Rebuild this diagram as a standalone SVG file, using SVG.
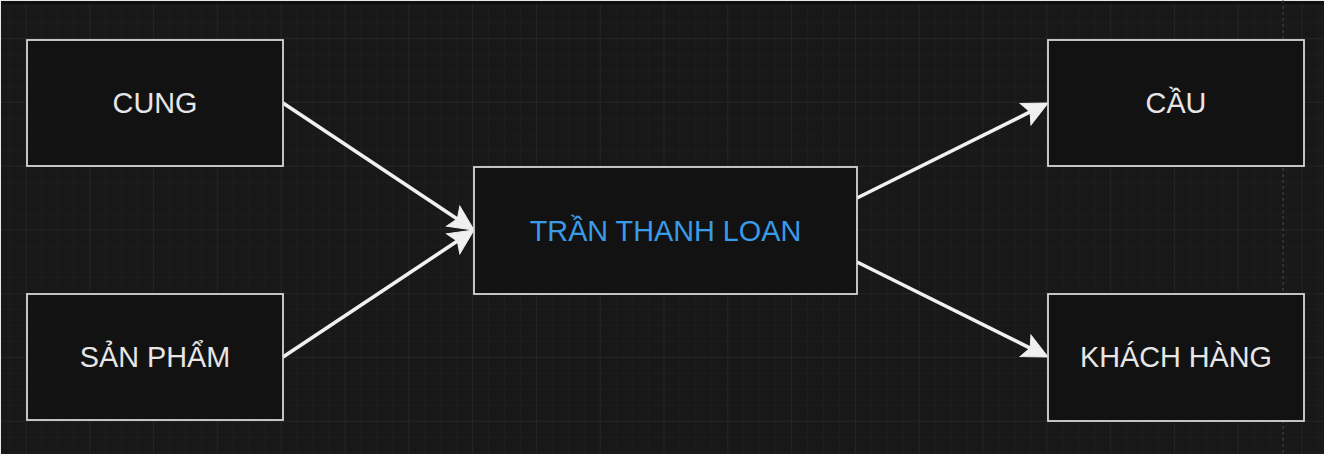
<svg xmlns="http://www.w3.org/2000/svg" width="1324" height="454" viewBox="0 0 1324 454">
  <defs>
    <pattern id="minor" x="25.5" y="38" width="15.95" height="15.95" patternUnits="userSpaceOnUse">
      <path d="M0,0 H15.95 M0,0 V15.95" fill="none" stroke="#212121" stroke-width="1"/>
    </pattern>
    <pattern id="major" x="25.5" y="38" width="63.8" height="63.8" patternUnits="userSpaceOnUse">
      <path d="M0,0 H63.8 M0,0 V63.8" fill="none" stroke="#2c2c2c" stroke-width="1"/>
    </pattern>
    <marker id="arrow" markerUnits="userSpaceOnUse" markerWidth="40" markerHeight="40" refX="0" refY="0" orient="auto" overflow="visible">
      <path d="M20,0 L-5,-12 L0,0 L-5,12 Z" fill="#f0f0f0" stroke="#f0f0f0" stroke-width="1" stroke-linejoin="miter"/>
    </marker>
    <style>
      .node rect { fill: #121212; stroke: #d6d6d6; stroke-width: 1.8; }
      .node text { font-family: "Liberation Sans", Arial, sans-serif; font-size: 28.8px; fill: #e6e6e6; text-anchor: middle; }
      .node text.blue { fill: #3a9be8; }
      .edge { fill: none; stroke: #f0f0f0; stroke-width: 3.6; marker-end: url(#arrow); }
    </style>
  </defs>

  <rect x="0" y="0" width="1324" height="454" fill="#181818"/>
  <rect x="0" y="0" width="1324" height="454" fill="url(#minor)"/>
  <rect x="0" y="0" width="1324" height="454" fill="url(#major)"/>
  <rect x="0" y="1" width="1324" height="3" fill="#0f0f0f"/>
  <line x1="0" y1="0.5" x2="1324" y2="0.5" stroke="#e8e8e8" stroke-width="1"/>
  <line x1="0.5" y1="0" x2="0.5" y2="454" stroke="#e8e8e8" stroke-width="1"/>
  <line x1="1283" y1="0" x2="1283" y2="454" stroke="#4a4a4a" stroke-width="1" stroke-dasharray="3,3"/>

  <g id="connectors">
    <path class="edge" d="M283,103 L457.35,218.93"/>
    <path class="edge" d="M283,357 L457.35,241.07"/>
    <path class="edge" d="M857,198 L1030.09,111.91"/>
    <path class="edge" d="M857,262 L1030.09,348.09"/>
  </g>

  <g id="node-cung" class="node">
    <rect x="27" y="40" width="256" height="126"/>
    <text x="155" y="113">CUNG</text>
  </g>
  <g id="node-san-pham" class="node">
    <rect x="27" y="294" width="256" height="126"/>
    <text x="155" y="367">SẢN PHẨM</text>
  </g>
  <g id="node-tran-thanh-loan" class="node">
    <rect x="474" y="167" width="383" height="127"/>
    <text class="blue" x="665.5" y="240.5">TRẦN THANH LOAN</text>
  </g>
  <g id="node-cau" class="node">
    <rect x="1048" y="40" width="256" height="126"/>
    <text x="1176" y="113">CẦU</text>
  </g>
  <g id="node-khach-hang" class="node">
    <rect x="1048" y="294" width="256" height="127"/>
    <text x="1176" y="367">KHÁCH HÀNG</text>
  </g>
</svg>
